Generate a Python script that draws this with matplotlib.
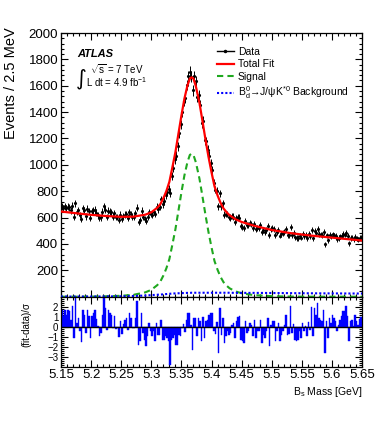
import numpy as np
import matplotlib
matplotlib.use("Agg")
import matplotlib.pyplot as plt
from matplotlib.lines import Line2D
from matplotlib.ticker import MultipleLocator, FixedLocator, FixedFormatter

plt.rcParams['font.family'] = ['Liberation Sans', 'DejaVu Sans']
plt.rcParams['mathtext.fontset'] = 'custom'
plt.rcParams['mathtext.rm'] = 'Liberation Sans'
plt.rcParams['mathtext.it'] = 'Liberation Sans:italic'
plt.rcParams['mathtext.bf'] = 'Liberation Sans:bold'

# --- binning: 200 bins of 2.5 MeV ---
mass_lo = 5.15
mass_hi = 5.65
bin_width = 0.0025

# events per bin
data_counts = [687, 672, 685, 671, 682, 679, 655, 689, 607, 707,
               642, 654, 620, 591, 671, 657, 610, 666, 650, 595,
               648, 655, 661, 638, 619, 595, 601, 645, 686, 660,
               605, 653, 646, 640, 607, 636, 603, 606, 582, 622,
               589, 613, 623, 628, 599, 640, 628, 605, 606, 632,
               676, 569, 581, 653, 604, 589, 577, 606, 643, 628,
               622, 643, 626, 681, 663, 681, 739, 702, 726, 768,
               793, 815, 786, 916, 977, 1042, 1070, 1141, 1241, 1307,
               1403, 1482, 1508, 1605, 1674, 1708, 1670, 1564, 1671, 1635,
               1512, 1530, 1457, 1314, 1332, 1188, 1178, 1116, 1070, 1016,
               963, 865, 813, 804, 686, 784, 687, 707, 622, 627,
               627, 605, 599, 611, 608, 564, 598, 603, 600, 538,
               532, 524, 572, 541, 542, 557, 549, 520, 554, 510,
               523, 520, 543, 487, 503, 493, 507, 533, 467, 511,
               518, 516, 470, 490, 506, 464, 475, 482, 493, 515,
               468, 469, 528, 468, 486, 450, 445, 447, 464, 448,
               479, 460, 470, 447, 477, 458, 506, 443, 502, 486,
               510, 476, 471, 468, 490, 398, 465, 428, 469, 457,
               472, 465, 458, 436, 447, 457, 464, 474, 471, 481,
               459, 406, 447, 448, 434, 456, 442, 433, 444, 447]

# pulls per bin (lower panel)
pulls = [1.7, 1.1, 1.7, 1.2, 1.7, 1.6, 0.7, 2.1, -1.1, 2.9,
         0.4, 0.9, -0.4, -1.5, 1.7, 1.2, -0.6, 1.7, 1.1, -1.1,
         1.1, 1.4, 1.7, 0.8, 0.1, -0.9, -0.6, 1.2, 2.9, 1.9,
         -0.3, 1.7, 1.4, 1.2, -0.1, 1.1, -0.2, -0.1, -1.0, 0.6,
         -0.7, 0.3, 0.7, 0.9, -0.3, 1.4, 0.9, -0.1, -0.1, 0.9,
         2.6, -1.8, -1.4, 1.4, -0.6, -1.3, -1.9, -0.9, 0.4, -0.4,
         -0.9, -0.4, -1.4, 0.4, -0.8, -0.8, 0.7, -1.3, -1.3, -0.9,
         -1.1, -1.4, -3.8, -1.3, -1.1, -0.8, -1.8, -1.8, -0.8, -0.9,
         -0.1, 0.3, -0.5, 0.7, 1.4, 1.4, 0.2, -2.3, 0.9, 0.9,
         -0.9, 0.9, 0.6, -1.4, 1.0, -1.1, 0.6, 0.7, 1.2, 1.4,
         1.4, -0.4, -0.7, 0.5, -2.6, 1.9, -0.8, 0.9, -1.6, -0.9,
         -0.4, -0.8, -0.6, 0.2, 0.4, -1.1, 0.6, 1.0, 1.1, -1.3,
         -1.4, -1.6, 0.6, -0.6, -0.4, 0.4, 0.2, -0.9, 0.7, -1.1,
         -0.4, -0.4, 0.7, -1.6, -0.8, -1.1, -0.4, 0.9, -1.9, 0.2,
         0.6, 0.6, -1.4, -0.4, 0.4, -1.4, -0.8, -0.4, 0.2, 1.2,
         -0.8, -0.7, 2.1, -0.6, 0.3, -1.3, -1.4, -1.3, -0.4, -1.1,
         0.4, -0.4, 0.1, -0.9, 0.5, -0.3, 2.0, -0.9, 1.9, 1.2,
         2.4, 0.9, 0.7, 0.6, 1.7, -2.6, 0.6, -1.1, 0.9, 0.4,
         1.2, 0.9, 0.6, -0.4, 0.2, 0.7, 1.1, 1.6, 1.6, 2.1,
         1.1, -1.4, 0.6, 0.7, 0.1, 1.2, 0.6, 0.2, 0.8, 1.0]

# fit curves sampled along the mass axis
curve_mass = [5.15, 5.175, 5.20, 5.225, 5.25, 5.27, 5.29, 5.30, 5.31, 5.315,
              5.32, 5.325, 5.33, 5.335, 5.34, 5.345, 5.35, 5.355, 5.36, 5.364,
              5.367, 5.37, 5.374, 5.38, 5.385, 5.39, 5.395, 5.40, 5.405, 5.41,
              5.415, 5.42, 5.425, 5.43, 5.44, 5.45, 5.47, 5.50, 5.53, 5.56,
              5.60, 5.65]
fit_total = [646, 633, 621, 612, 606, 607, 622, 640, 675, 702,
             746, 801, 871, 981, 1095, 1234, 1373, 1502, 1601, 1654,
             1664, 1654, 1596, 1470, 1333, 1192, 1061, 944, 837, 769,
             712, 669, 641, 618, 587, 567, 539, 506, 483, 466,
             448, 426]
fit_signal = [0, 0, 1, 3, 7, 14, 33, 52, 88, 115,
              160, 215, 285, 395, 510, 650, 790, 920, 1020, 1075,
              1085, 1075, 1020, 895, 760, 620, 490, 375, 270, 205,
              150, 110, 84, 64, 40, 26, 12, 4, 1, 0,
              0, 0]
fit_bd = [1, 1, 1, 2, 3, 5, 9, 12, 15, 16,
          18, 20, 22, 24, 25, 26, 27, 28, 29, 29,
          30, 30, 30, 30, 30, 30, 30, 30, 30, 30,
          30, 30, 30, 30, 29, 29, 29, 28, 27, 26,
          25, 24]

x_tick_vals = [5.15, 5.2, 5.25, 5.3, 5.35, 5.4, 5.45, 5.5, 5.55, 5.6, 5.65]
x_tick_labels = ["5.15", "5.2", "5.25", "5.3", "5.35", "5.4", "5.45", "5.5", "5.55", "5.6", "5.65"]

centers = mass_lo + bin_width * (np.arange(len(data_counts)) + 0.5)
counts = np.array(data_counts, dtype=float)

W, H = 382, 443
fig = plt.figure(figsize=(W / 100, H / 100), dpi=100)

ax_left = 61 / W
ax_w = 301 / W
main_bot = (H - 296.7) / H
main_top = (H - 33) / H
ratio_bot = (H - 366.7) / H

ax = fig.add_axes([ax_left, main_bot, ax_w, main_top - main_bot])
ax2 = fig.add_axes([ax_left, ratio_bot, ax_w, main_bot - ratio_bot], sharex=ax)

# --- main panel ---
ax.errorbar(centers, counts, yerr=np.sqrt(counts), xerr=bin_width / 2,
            fmt='.', color='black', ms=2.5, elinewidth=0.7, capsize=0, zorder=2)
ax.plot(curve_mass, fit_total, color='#ff0000', lw=1.6, zorder=4)
ax.plot(curve_mass, fit_signal, color='#1fa81f', lw=1.5, ls=(0, (3, 2)), zorder=3)
ax.plot(curve_mass, fit_bd, color='#0000ff', lw=1.5, ls=(0, (1, 1)), zorder=3)

ax.set_xlim(mass_lo, mass_hi)
ax.set_ylim(0, 2000)
ax.yaxis.set_major_locator(FixedLocator(list(range(200, 2001, 200))))
ax.yaxis.set_minor_locator(MultipleLocator(40))
ax.tick_params(axis='x', labelbottom=False)
ax.set_ylabel("Events / 2.5 MeV", fontsize=10.5, loc='top')
ax.yaxis.set_label_coords(-0.143, 1.02)

for a in (ax, ax2):
    a.xaxis.set_major_locator(FixedLocator(x_tick_vals))
    a.xaxis.set_minor_locator(MultipleLocator(0.01))
    a.tick_params(which='both', direction='in', top=True, right=True, width=0.8)
    a.tick_params(which='major', length=5, labelsize=9.5, pad=2)
    a.tick_params(which='minor', length=2.5)
    for s in a.spines.values():
        s.set_linewidth(0.9)

# legend
handles = [
    Line2D([], [], color='black', lw=1.0, marker='.', ms=3),
    Line2D([], [], color='#ff0000', lw=1.6),
    Line2D([], [], color='#1fa81f', lw=1.5, ls=(0, (3, 2))),
    Line2D([], [], color='#0000ff', lw=1.5, ls=(0, (1, 1))),
]
labels = ["Data", "Total Fit", "Signal",
          r"B$_\mathrm{d}^\mathrm{0}$→J/ψK$^\mathrm{*0}$ Background"]
ax.legend(handles, labels, loc='upper left', bbox_to_anchor=(0.518, 0.948),
          frameon=False, fontsize=7.5, handlelength=1.6, handletextpad=0.4,
          labelspacing=0.25, borderpad=0, borderaxespad=0)

# ATLAS label
ax.text(0.053, 0.919, "ATLAS", transform=ax.transAxes, fontsize=8,
        fontweight='bold', fontstyle='italic', va='center', ha='left')
ax.text(0.048, 0.826, "∫", transform=ax.transAxes, fontsize=15,
        va='center', ha='left', family=['DejaVu Sans'])
ax.text(0.098, 0.862, r"$\sqrt{\mathrm{s}}$ = 7 TeV", transform=ax.transAxes,
        fontsize=7, va='center', ha='left')
ax.text(0.083, 0.815, r"L dt = 4.9 fb$^\mathrm{-1}$", transform=ax.transAxes,
        fontsize=7, va='center', ha='left')

# --- pull panel ---
ax2.bar(centers, pulls, width=bin_width, color='#0000ff',
        edgecolor='#0000ff', linewidth=0.3, zorder=2)
ax2.axhline(0, color='black', lw=1.0, zorder=3)
ax2.set_ylim(-3.95, 3.05)
ax2.yaxis.set_major_locator(FixedLocator([-3, -2, -1, 0, 1, 2]))
ax2.yaxis.set_minor_locator(MultipleLocator(0.2))
ax2.tick_params(axis='y', which='major', labelsize=7, pad=2)
ax2.xaxis.set_major_formatter(FixedFormatter(x_tick_labels))
ax2.set_ylabel("(fit-data)/σ", fontsize=7)
ax2.yaxis.set_label_coords(-0.1, 0.6)
ax2.set_xlabel(r"B$_\mathrm{s}$ Mass [GeV]", fontsize=7.5, loc='right')
ax2.xaxis.set_label_coords(1.0, -0.26)

fig.savefig("out.png", dpi=100)
